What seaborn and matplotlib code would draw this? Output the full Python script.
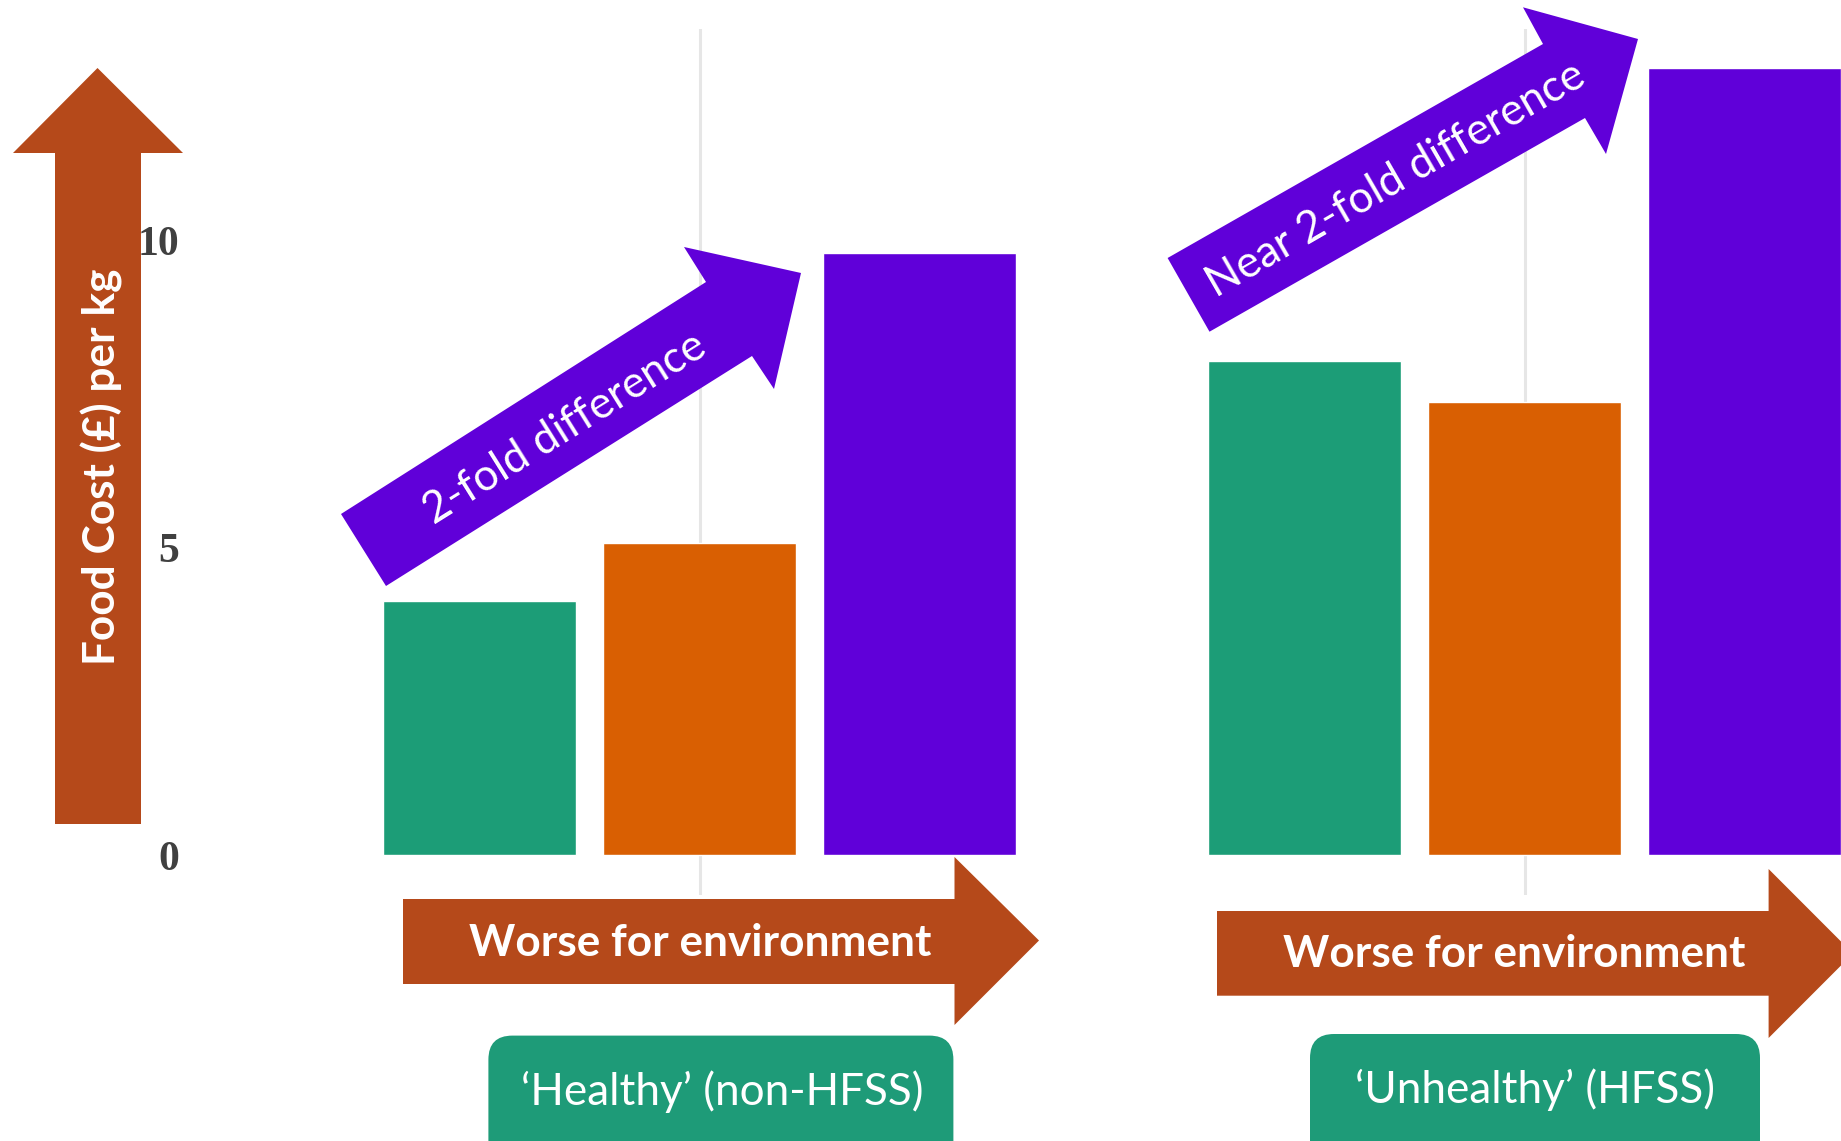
"""
Food cost per kg by environmental impact, healthy vs unhealthy foods.
"""
import pandas as pd
import matplotlib
matplotlib.use("Agg")
import matplotlib.pyplot as plt
import seaborn as sns
from matplotlib.patches import Polygon, FancyBboxPatch
from matplotlib.transforms import Affine2D

# data
impact = ["Low impact", "Medium impact", "High impact"]
healthy_cost = [4.14, 5.08, 9.81]
unhealthy_cost = [8.05, 7.37, 12.81]
bar_colors = ["#1C9D77", "#D95F02", "#6000D9"]
y_ticks = [0, 5, 10]
group_labels = ["\u2018Healthy\u2019 (non-HFSS)", "\u2018Unhealthy\u2019 (HFSS)"]
diff_labels = ["2-fold difference", "Near 2-fold difference"]

RUST = "#B5491A"
PURPLE = "#6000D9"
GREEN = "#1E9B78"

W, H = 1841, 1141
sns.set_theme(style="white")
plt.rcParams["font.family"] = ["Lato", "DejaVu Sans"]

fig = plt.figure(figsize=(W / 100, H / 100), dpi=100)
# pixel frame (y down) on top of the figure
px = Affine2D().scale(1 / W, -1 / H).translate(0, 1) + fig.transFigure

ax_left_px = [369.7, 1194.7]
ax_w_px = 660
for i, (vals, left) in enumerate(zip([healthy_cost, unhealthy_cost], ax_left_px)):
    ax = fig.add_axes([left / W, 246 / H, ax_w_px / W, 866 / H])
    ax.set_facecolor("none")
    df = pd.DataFrame({"impact": impact, "cost": vals})
    sns.barplot(data=df, x="impact", y="cost", hue="impact", palette=bar_colors,
                width=0.876, saturation=1, legend=False, ax=ax)
    ax.set_xlim(-0.5, 2.5)
    ax.set_ylim(-0.65, 13.45)
    ax.set_xticks([1])
    ax.set_xticklabels([])
    ax.grid(axis="x", color="#E6E6E6", lw=2.2)
    ax.set_axisbelow(True)
    ax.tick_params(length=0)
    ax.set_xlabel("")
    ax.set_ylabel("")
    sns.despine(ax=ax, left=True, bottom=True)
    if i == 0:
        ax.set_yticks(y_ticks)
        ax.set_yticklabels([str(t) for t in y_ticks], fontfamily="Liberation Serif",
                           fontweight="bold", fontsize=30, color="#404040")
        ax.tick_params(axis="y", pad=137)
    else:
        ax.set_yticks([])

def shape(points, color):
    fig.add_artist(Polygon(points, closed=True, facecolor=color, edgecolor="none",
                           transform=px, zorder=5))

def label(x, y, s, size, rot=0, weight="normal"):
    fig.text(x, y, s, transform=px, color="white", fontsize=size, rotation=rot,
             fontweight=weight, ha="center", va="center", rotation_mode="anchor", zorder=6)

# y-axis arrow
shape([(55, 824), (55, 153), (13, 153), (97.5, 68), (183, 153), (141, 153), (141, 824)], RUST)
label(102, 467, "Food Cost (\u00a3) per kg", 31.8, rot=90, weight="bold")

# "worse for environment" arrows
shape([(403, 899), (954.5, 899), (954.5, 857), (1039, 940.5), (954.5, 1025), (954.5, 984), (403, 984)], RUST)
shape([(1217, 911), (1768.6, 911), (1768.6, 869), (1853, 953.5), (1768.6, 1038), (1768.6, 995.7), (1217, 995.7)], RUST)
label(700, 943, "Worse for environment", 31.8, weight="bold")
label(1514, 954, "Worse for environment", 31.8, weight="bold")

# fold-difference arrows
shape([(341, 514), (706, 282), (684, 247), (801, 273), (774, 389), (752, 356), (386, 586)], PURPLE)
shape([(1167.6, 258), (1543, 44), (1523, 7.3), (1638, 39), (1606, 154), (1585, 118), (1209.5, 331.7)], PURPLE)
label(565, 428, diff_labels[0], 31.5, rot=32)
label(1396, 180, diff_labels[1], 31.5, rot=30)

# group boxes
for (x0, x1, y0), (cx, cy), txt in zip([(488.4, 953.4, 1035.6), (1310, 1760, 1034)],
                                       [(722, 1092), (1535, 1090)], group_labels):
    fig.add_artist(FancyBboxPatch((x0, y0), x1 - x0, 160, boxstyle="round,pad=0,rounding_size=24",
                                  facecolor=GREEN, edgecolor="none", transform=px, zorder=5))
    label(cx, cy, txt, 31.7)

fig.savefig("out.png", dpi=100)
